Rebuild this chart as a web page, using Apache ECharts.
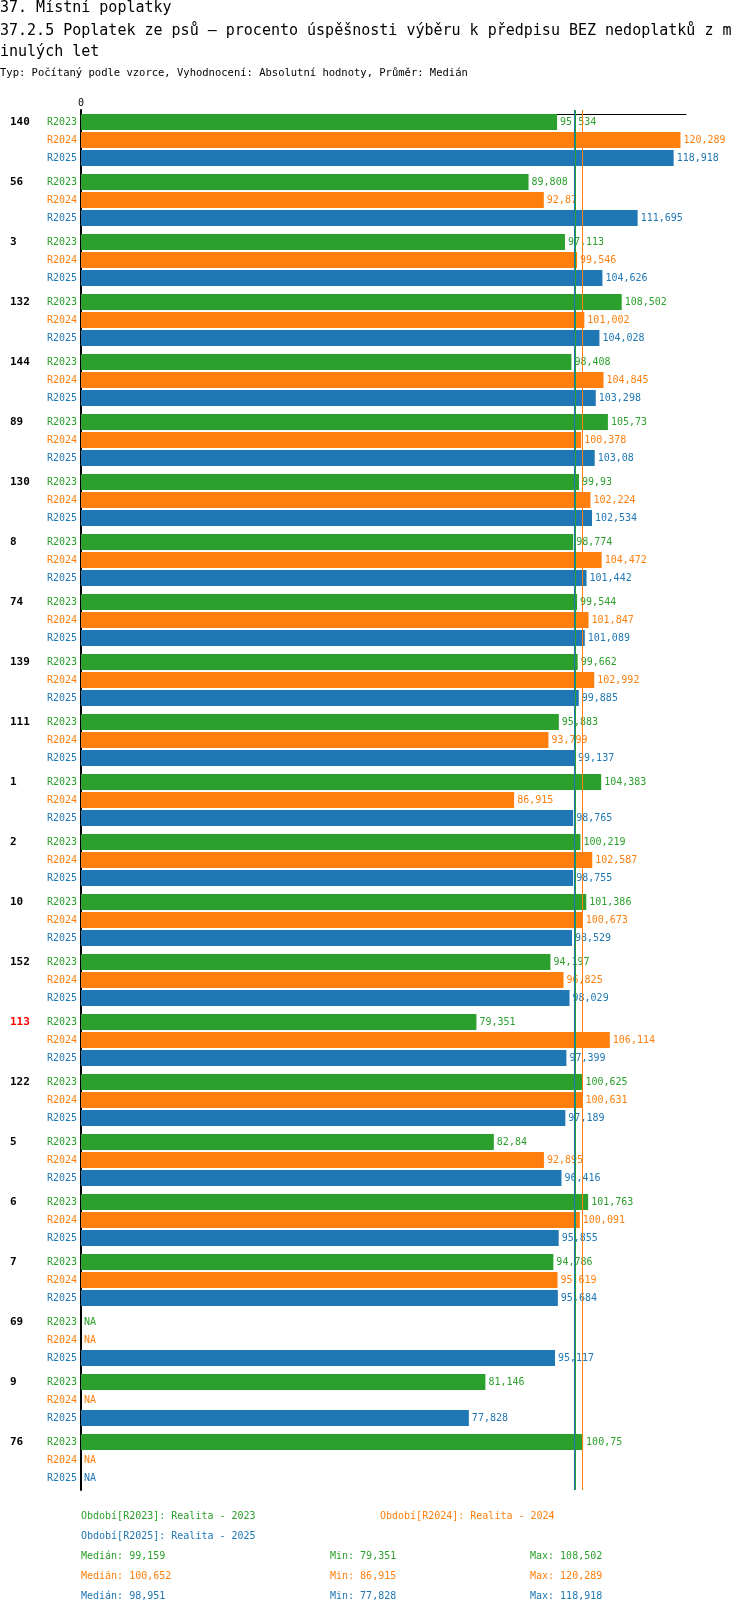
<!DOCTYPE html>
<html>
<head>
<meta charset="utf-8">
<script src="https://cdn.jsdelivr.net/npm/echarts@6/dist/echarts.min.js"></script>
<style>
html,body{margin:0;padding:0;background:#fff;}
#chart{width:750px;height:1614px;}
</style>
</head>
<body>
<div id="chart"></div>
<script>
const categories = ['140','56','3','132','144','89','130','8','74','139','111','1','2','10','152','113','122','5','6','7','69','9','76'];
const highlighted = ['113'];
const seriesNames = ['R2023','R2024','R2025'];
const r2023 = [95.534,89.808,97.113,108.502,98.408,105.73,99.93,98.774,99.544,99.662,95.883,104.383,100.219,101.386,94.197,79.351,100.625,82.84,101.763,94.786,null,81.146,100.75];
const r2024 = [120.289,92.87,99.546,101.002,104.845,100.378,102.224,104.472,101.847,102.992,93.799,86.915,102.587,100.673,96.825,106.114,100.631,92.895,100.091,95.619,null,null,null];
const r2025 = [118.918,111.695,104.626,104.028,103.298,103.08,102.534,101.442,101.089,99.885,99.137,98.765,98.755,98.529,98.029,97.399,97.189,96.416,95.855,95.684,95.117,77.828,null];
const medians = [99.159,100.652,98.951];
const mins = [79.351,86.915,77.828];
const maxs = [108.502,120.289,118.918];
const periodLabels = ['Období[R2023]: Realita - 2023','Období[R2024]: Realita - 2024','Období[R2025]: Realita - 2025'];
const titleLines = ['37. Místní poplatky','37.2.5 Poplatek ze psů – procento úspěšnosti výběru k předpisu BEZ nedoplatků z m','inulých let'];
const subtitle = 'Typ: Počítaný podle vzorce, Vyhodnocení: Absolutní hodnoty, Průměr: Medián';

const colors = ['#2ca02c','#ff7f0e','#1f77b4'];
const FONT = 'DejaVu Sans Mono';
const fmt = v => String(v).replace('.', ',');
const allValues = [r2023, r2024, r2025];

const series = [];
allValues.forEach((vals, i) => {
  series.push({
    type: 'bar', stack: 's' + i, barWidth: 16, barGap: '12.5%', silent: true,
    data: categories.map(() => 0),
    itemStyle: {color: 'rgba(0,0,0,0)'},
    label: {show: true, position: 'left', distance: 4, formatter: seriesNames[i],
      color: colors[i], fontSize: 10, fontFamily: FONT}
  });
  series.push({
    type: 'bar', stack: 's' + i, barWidth: 16, barGap: '12.5%', silent: true,
    name: seriesNames[i],
    data: vals.map(v => v == null ? {value: 0, label: {formatter: 'NA'}} : v),
    itemStyle: {color: colors[i]},
    label: {show: true, position: 'right', distance: 3, color: colors[i],
      fontSize: 10, fontFamily: FONT, formatter: p => fmt(p.value)},
    markLine: {
      silent: true, symbol: 'none', animation: false,
      label: {show: false},
      lineStyle: {color: colors[i], width: 1, type: 'solid'},
      data: [{xAxis: medians[i]}]
    }
  });
});

const graphics = [];
const addText = (x, y, text, color, size, weight) => graphics.push({
  type: 'text', left: x, top: y - size / 2,
  style: {text: text, fill: color, font: (weight || 'normal') + ' ' + size + 'px "' + FONT + '"'}
});
addText(0, 8, titleLines[0], '#000', 15);
addText(0, 31, titleLines[1], '#000', 15);
addText(0, 52, titleLines[2], '#000', 15);
addText(0, 73, subtitle, '#000', 10.5);
addText(81, 1516, periodLabels[0], colors[0], 10);
addText(380, 1516, periodLabels[1], colors[1], 10);
addText(81, 1536, periodLabels[2], colors[2], 10);
for (let i = 0; i < 3; i++) {
  const y = 1556 + i * 20;
  addText(81, y, 'Medián: ' + fmt(medians[i]), colors[i], 10);
  addText(330, y, 'Min: ' + fmt(mins[i]), colors[i], 10);
  addText(530, y, 'Max: ' + fmt(maxs[i]), colors[i], 10);
}

const catLabelStyle = {fontFamily: FONT, fontWeight: 'bold', fontSize: 11,
  align: 'left', verticalAlign: 'bottom', lineHeight: 36};

const chart = echarts.init(document.getElementById('chart'), null, {renderer: 'canvas'});
chart.setOption({
  animation: false,
  backgroundColor: '#fff',
  grid: {left: 81, right: 64, top: 110, height: 1380, containLabel: false, outerBoundsMode: 'none'},
  xAxis: {
    type: 'value', position: 'top', min: 0, max: 121.4, offset: -4,
    axisLine: {show: true, lineStyle: {color: '#000', width: 1}},
    splitLine: {show: false},
    axisTick: {show: false},
    axisLabel: {customValues: [0], formatter: v => v === 0 ? '0' : '', fontSize: 10,
      fontFamily: FONT, color: '#000', margin: 6}
  },
  yAxis: {
    type: 'category', inverse: true,
    data: categories.map(c => highlighted.includes(c)
      ? {value: c, textStyle: Object.assign({color: '#ff0000'}, catLabelStyle)} : c),
    axisLine: {show: true, lineStyle: {color: '#000', width: 2}},
    axisTick: {show: false},
    splitLine: {show: false},
    axisLabel: Object.assign({color: '#000', margin: 71, interval: 0}, catLabelStyle)
  },
  series: series,
  graphic: graphics
});
</script>
</body>
</html>
